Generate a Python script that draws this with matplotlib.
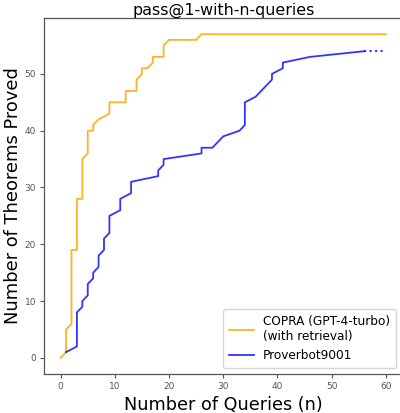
import matplotlib
matplotlib.use('Agg')
import matplotlib.pyplot as plt

# COPRA (GPT-4-turbo, with retrieval): vertices
copra_n = [0, 1, 1, 2, 2, 3, 3, 4, 4, 5, 5, 6, 6, 7, 9, 9, 12, 12, 14, 14,
           15, 15, 16, 17, 17, 19, 19, 20, 25, 26, 60]
copra_proved = [0, 1, 5, 6, 19, 19, 28, 28, 35, 36, 40, 40, 41, 42, 43, 45, 45, 47, 47, 49,
                50, 51, 51, 52, 53, 53, 55, 56, 56, 57, 57]

# Proverbot9001
pb_n = [1, 3, 3, 4, 4, 5, 5, 6, 6, 7, 7, 8, 8, 9, 9, 11, 11, 13, 13, 18, 18,
        19, 19, 26, 26, 28, 30, 33, 34, 34, 36, 39, 39, 41, 41, 46, 56]
pb_proved = [1, 2, 8, 9, 10, 11, 13, 14, 15, 16, 18, 19, 21, 22, 25, 26, 28, 29, 31, 32, 33,
             34, 35, 36, 37, 37, 39, 40, 41, 45, 46, 49, 50, 51, 52, 53, 54]
# dotted continuation of Proverbot9001
pb_tail_n = [56, 60]
pb_tail_proved = [54, 54]

fig = plt.figure(figsize=(4, 4.13), dpi=100)
ax = fig.add_axes([0.111, 0.0944, 0.894, 0.862])

ax.plot(copra_n, copra_proved, color='orange', alpha=0.85, lw=1.3,
        label='COPRA (GPT-4-turbo)\n(with retrieval)')
ax.plot(pb_n, pb_proved, color='blue', alpha=0.8, lw=1.3, label='Proverbot9001')
ax.plot(pb_tail_n, pb_tail_proved, color='blue', alpha=0.8, lw=1.5, ls=':')

ax.set_title('pass@1-with-n-queries', fontsize=11.4, pad=2)
ax.set_xlabel('Number of Queries (n)', fontsize=12.7, labelpad=3)
ax.set_ylabel('Number of Theorems Proved', fontsize=12.9, labelpad=2)

ax.set_xticks([0, 10, 20, 30, 40, 50, 60])
ax.set_yticks([0, 10, 20, 30, 40, 50])
ax.tick_params(labelsize=6.5, length=3, width=0.8, colors='#555555', pad=3)
for side in ['left', 'bottom', 'top', 'right']:
    ax.spines[side].set_color('#555555')
    ax.spines[side].set_linewidth(0.9)

ax.legend(loc='lower right', fontsize=8.7, handlelength=2.1, handletextpad=0.7,
          borderpad=0.5, labelspacing=0.45, framealpha=0.8)

fig.savefig('out.png', dpi=100)
